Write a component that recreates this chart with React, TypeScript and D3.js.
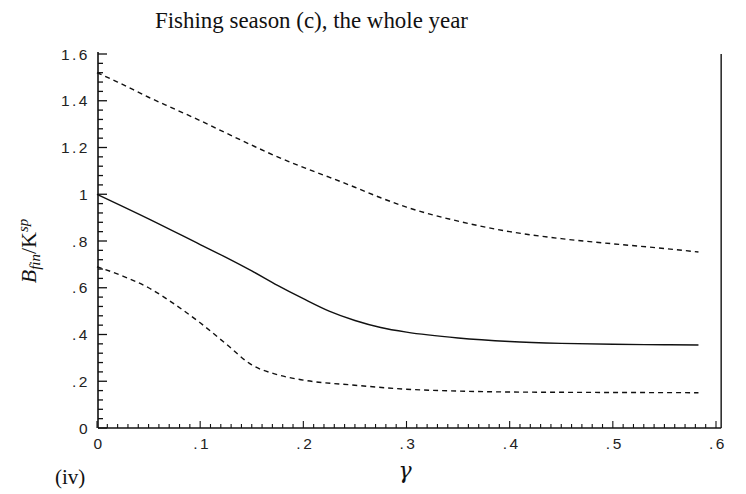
import React from "react";
import * as d3 from "d3";

const gammaSolid = [0, 0.05, 0.1, 0.125, 0.15, 0.175, 0.2, 0.225, 0.25, 0.275, 0.3, 0.35, 0.4, 0.45, 0.5, 0.55, 0.583];
const solidVals = [1.0, 0.895, 0.785, 0.73, 0.672, 0.61, 0.553, 0.5, 0.46, 0.43, 0.41, 0.385, 0.37, 0.362, 0.358, 0.356, 0.355];

const gammaUpper = [0, 0.02, 0.05, 0.075, 0.1, 0.125, 0.15, 0.175, 0.2, 0.225, 0.25, 0.275, 0.3, 0.35, 0.4, 0.45, 0.5, 0.55, 0.583];
const upperVals = [1.52, 1.48, 1.415, 1.365, 1.315, 1.262, 1.21, 1.16, 1.115, 1.073, 1.03, 0.985, 0.945, 0.885, 0.84, 0.81, 0.788, 0.768, 0.753];

const gammaLower = [0, 0.025, 0.05, 0.075, 0.1, 0.125, 0.15, 0.175, 0.2, 0.25, 0.3, 0.35, 0.4, 0.5, 0.583];
const lowerVals = [0.69, 0.65, 0.6, 0.53, 0.45, 0.36, 0.27, 0.228, 0.205, 0.183, 0.166, 0.158, 0.154, 0.152, 0.151];

const xTickLabels = ["0", ".1", ".2", ".3", ".4", ".5", ".6"];
const xTickValues = [0, 0.1, 0.2, 0.3, 0.4, 0.5, 0.6];
const yTickLabels = ["0", ".2", ".4", ".6", ".8", "1", "1.2", "1.4", "1.6"];
const yTickValues = [0, 0.2, 0.4, 0.6, 0.8, 1.0, 1.2, 1.4, 1.6];

export default function App() {
  const W = 746, H = 494;
  const x = d3.scaleLinear().domain([0, 0.6]).range([97, 716]);
  const y = d3.scaleLinear().domain([0, 1.6]).range([428, 54]);

  const line = (gs: number[], vs: number[]) =>
    d3.line<number>()
      .x((_, i) => x(gs[i]))
      .y((v) => y(v))
      .curve(d3.curveMonotoneX)(vs) || "";

  const yMinor = d3.range(0, 41).map((i) => i * 0.04);
  const xMinor = d3.range(0, 61).map((i) => i * 0.01);
  const axisX = x(0) + 1;
  const axisY = y(0);

  return (
    <svg width={W} height={H} style={{ position: "absolute", left: 0, top: 0, background: "#fff" }}>
      <rect x={0} y={0} width={W} height={H} fill="#fff" />
      <text x={155} y={28} fontFamily="Liberation Serif" fontSize={23} fill="#111" textLength={313} lengthAdjust="spacingAndGlyphs">
        Fishing season (c), the whole year
      </text>

      {/* axes */}
      <line x1={axisX} y1={y(1.6) - 2} x2={axisX} y2={axisY} stroke="#111" strokeWidth={1.6} />
      <line x1={axisX} y1={axisY} x2={x(0.605)} y2={axisY} stroke="#111" strokeWidth={1.6} />
      <line x1={x(0.605)} y1={y(1.6)} x2={x(0.605)} y2={axisY} stroke="#111" strokeWidth={1.4} />

      {yMinor.map((v, i) => {
        const major = i % 5 === 0;
        return (
          <line key={"ym" + i} x1={axisX} x2={axisX + (major ? 9 : 5)} y1={y(v)} y2={y(v)} stroke="#111" strokeWidth={1.3} />
        );
      })}
      {xMinor.map((v, i) => {
        const major = i % 10 === 0;
        return (
          <line key={"xm" + i} x1={x(v)} x2={x(v)} y1={axisY} y2={axisY - (major ? 7 : 4)} stroke="#111" strokeWidth={1.1} />
        );
      })}

      {yTickValues.map((v, i) => (
        <text key={"yl" + i} x={90} y={y(v) + 5.5} textAnchor="end" fontFamily="Liberation Sans" fontSize={15.5} letterSpacing={2.5} fill="#222">
          {yTickLabels[i]}
        </text>
      ))}
      {xTickValues.map((v, i) => (
        <text key={"xl" + i} x={x(v) + 2} y={449} textAnchor="middle" fontFamily="Liberation Sans" fontSize={15.5} letterSpacing={2.5} fill="#222">
          {xTickLabels[i]}
        </text>
      ))}

      {/* curves */}
      <path d={line(gammaUpper, upperVals)} fill="none" stroke="#111" strokeWidth={1.4} strokeDasharray="5,4" />
      <path d={line(gammaSolid, solidVals)} fill="none" stroke="#111" strokeWidth={1.4} />
      <path d={line(gammaLower, lowerVals)} fill="none" stroke="#111" strokeWidth={1.4} strokeDasharray="5,4" />

      {/* labels */}
      <text transform="translate(36,251) rotate(-90)" textAnchor="middle" fontFamily="Liberation Serif" fontSize={22} fill="#111">
        <tspan fontStyle="italic">B</tspan>
        <tspan fontStyle="italic" fontSize={15} dy={4}>fin</tspan>
        <tspan dy={-4}>/K</tspan>
        <tspan fontStyle="italic" fontSize={15} dy={-8}>sp</tspan>
      </text>
      <text x={405} y={478} textAnchor="middle" fontFamily="DejaVu Serif" fontStyle="italic" fontSize={22} fill="#111">γ</text>
      <text x={55} y={484} fontFamily="Liberation Serif" fontSize={21} fill="#111">(iv)</text>
    </svg>
  );
}
